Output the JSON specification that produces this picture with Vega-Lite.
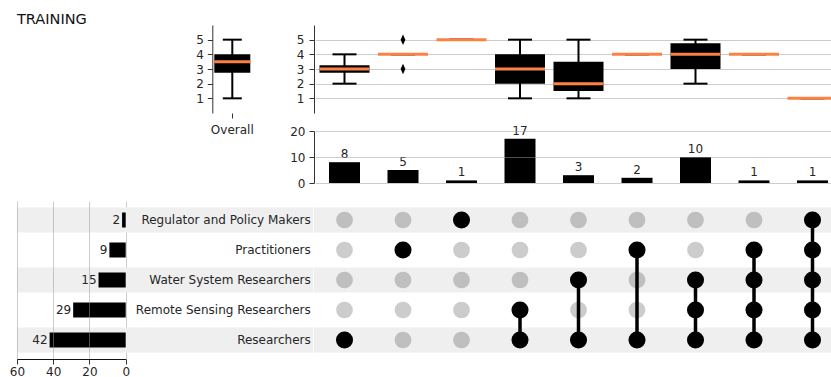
{
  "$schema": "https://vega.github.io/schema/vega-lite/v6.json",
  "padding": {"left": 9, "top": 12, "right": 0, "bottom": 0},
  "autosize": {"type": "pad"},
  "config": {
    "font": "DejaVu Sans",
    "view": {"stroke": null},
    "axis": {
      "labelFont": "DejaVu Sans",
      "labelFontSize": 12,
      "labelColor": "#262626",
      "labelOverlap": false,
      "labelFlush": false,
      "domainColor": "#333333",
      "tickColor": "#333333",
      "tickSize": 5,
      "gridColor": "#999999",
      "gridOpacity": 0.5,
      "title": null
    }
  },
  "datasets": {
    "overall": [{"grp": "Overall", "lo": 1, "q1": 2.75, "med": 3.5, "q3": 4, "hi": 5}],
    "inter": [
      {"col": 1, "count": 8, "lo": 2, "q1": 2.75, "med": 3, "q3": 3.25, "hi": 4},
      {"col": 2, "count": 5, "lo": 4, "q1": 4, "med": 4, "q3": 4, "hi": 4},
      {"col": 3, "count": 1, "lo": 5, "q1": 5, "med": 5, "q3": 5, "hi": 5},
      {"col": 4, "count": 17, "lo": 1, "q1": 2, "med": 3, "q3": 4, "hi": 5},
      {"col": 5, "count": 3, "lo": 1, "q1": 1.5, "med": 2, "q3": 3.5, "hi": 5},
      {"col": 6, "count": 2, "lo": 4, "q1": 4, "med": 4, "q3": 4, "hi": 4},
      {"col": 7, "count": 10, "lo": 2, "q1": 3, "med": 4, "q3": 4.75, "hi": 5},
      {"col": 8, "count": 1, "lo": 4, "q1": 4, "med": 4, "q3": 4, "hi": 4},
      {"col": 9, "count": 1, "lo": 1, "q1": 1, "med": 1, "q3": 1, "hi": 1}
    ],
    "outliers": [{"col": 2, "v": 3}, {"col": 2, "v": 5}],
    "sets": [
      {"set": "Regulator and Policy Makers", "size": 2},
      {"set": "Practitioners", "size": 9},
      {"set": "Water System Researchers", "size": 15},
      {"set": "Remote Sensing Researchers", "size": 29},
      {"set": "Researchers", "size": 42}
    ],
    "matrix": [
      {"col": 1, "set": "Regulator and Policy Makers", "on": false},
      {"col": 1, "set": "Practitioners", "on": false},
      {"col": 1, "set": "Water System Researchers", "on": false},
      {"col": 1, "set": "Remote Sensing Researchers", "on": false},
      {"col": 1, "set": "Researchers", "on": true},
      {"col": 2, "set": "Regulator and Policy Makers", "on": false},
      {"col": 2, "set": "Practitioners", "on": true},
      {"col": 2, "set": "Water System Researchers", "on": false},
      {"col": 2, "set": "Remote Sensing Researchers", "on": false},
      {"col": 2, "set": "Researchers", "on": false},
      {"col": 3, "set": "Regulator and Policy Makers", "on": true},
      {"col": 3, "set": "Practitioners", "on": false},
      {"col": 3, "set": "Water System Researchers", "on": false},
      {"col": 3, "set": "Remote Sensing Researchers", "on": false},
      {"col": 3, "set": "Researchers", "on": false},
      {"col": 4, "set": "Regulator and Policy Makers", "on": false},
      {"col": 4, "set": "Practitioners", "on": false},
      {"col": 4, "set": "Water System Researchers", "on": false},
      {"col": 4, "set": "Remote Sensing Researchers", "on": true},
      {"col": 4, "set": "Researchers", "on": true},
      {"col": 5, "set": "Regulator and Policy Makers", "on": false},
      {"col": 5, "set": "Practitioners", "on": false},
      {"col": 5, "set": "Water System Researchers", "on": true},
      {"col": 5, "set": "Remote Sensing Researchers", "on": false},
      {"col": 5, "set": "Researchers", "on": true},
      {"col": 6, "set": "Regulator and Policy Makers", "on": false},
      {"col": 6, "set": "Practitioners", "on": true},
      {"col": 6, "set": "Water System Researchers", "on": false},
      {"col": 6, "set": "Remote Sensing Researchers", "on": false},
      {"col": 6, "set": "Researchers", "on": true},
      {"col": 7, "set": "Regulator and Policy Makers", "on": false},
      {"col": 7, "set": "Practitioners", "on": false},
      {"col": 7, "set": "Water System Researchers", "on": true},
      {"col": 7, "set": "Remote Sensing Researchers", "on": true},
      {"col": 7, "set": "Researchers", "on": true},
      {"col": 8, "set": "Regulator and Policy Makers", "on": false},
      {"col": 8, "set": "Practitioners", "on": true},
      {"col": 8, "set": "Water System Researchers", "on": true},
      {"col": 8, "set": "Remote Sensing Researchers", "on": true},
      {"col": 8, "set": "Researchers", "on": true},
      {"col": 9, "set": "Regulator and Policy Makers", "on": true},
      {"col": 9, "set": "Practitioners", "on": true},
      {"col": 9, "set": "Water System Researchers", "on": true},
      {"col": 9, "set": "Remote Sensing Researchers", "on": true},
      {"col": 9, "set": "Researchers", "on": true}
    ]
  },
  "columns": 3,
  "spacing": {"row": 18, "column": 0},
  "bounds": "flush",
  "align": "each",
  "concat": [
    {
      "width": 108.7,
      "height": 88,
      "title": {"text": "TRAINING", "anchor": "start", "fontSize": 14.5, "fontWeight": "normal", "color": "#111111", "offset": -2.5, "font": "DejaVu Sans"},
      "data": {"values": []},
      "mark": "point"
    },
    {
      "width": 187.3,
      "height": 88,
      "data": {"name": "overall"},
      "encoding": {
        "x": {"field": "grp", "type": "nominal", "scale": {"range": [86.3, 126.3], "paddingInner": 0, "paddingOuter": 0},
              "axis": {"domain": false, "ticks": true, "labelAngle": 0, "labelPadding": 6, "tickSize": 5, "labelOverlap": false}}
      },
      "layer": [
        {"mark": {"type": "rule", "strokeWidth": 2, "color": "black"},
         "encoding": {"y": {"field": "lo", "type": "quantitative", "scale": {"domain": [0, 6]},
                            "axis": {"values": [1, 2, 3, 4, 5], "tickCount": 10, "format": "d", "offset": -86.3, "grid": false, "labelPadding": 4, "labelOverlap": false}},
                      "y2": {"field": "hi"}}},
        {"mark": {"type": "tick", "orient": "horizontal", "size": 19, "thickness": 2, "color": "black", "opacity": 1},
         "encoding": {"y": {"field": "lo", "type": "quantitative"}}},
        {"mark": {"type": "tick", "orient": "horizontal", "size": 19, "thickness": 2, "color": "black", "opacity": 1},
         "encoding": {"y": {"field": "hi", "type": "quantitative"}}},
        {"mark": {"type": "bar", "size": 36, "color": "black"},
         "encoding": {"y": {"field": "q1", "type": "quantitative"}, "y2": {"field": "q3"}}},
        {"mark": {"type": "tick", "orient": "horizontal", "size": 36, "thickness": 3, "color": "#fd8143", "opacity": 1},
         "encoding": {"y": {"field": "med", "type": "quantitative"}}}
      ]
    },
    {
      "width": 518,
      "height": 88,
      "data": {"name": "inter"},
      "encoding": {
        "x": {"field": "col", "type": "ordinal", "scale": {"range": [1.25, 527.75], "paddingInner": 0, "paddingOuter": 0}, "axis": null}
      },
      "layer": [
        {"mark": {"type": "rule", "strokeWidth": 2, "color": "black", "clip": true},
         "encoding": {"y": {"field": "lo", "type": "quantitative", "scale": {"domain": [0, 6]},
                            "axis": {"values": [1, 2, 3, 4, 5], "tickCount": 10, "format": "d", "grid": true, "labelPadding": 5, "zindex": 0, "labelOverlap": false}},
                      "y2": {"field": "hi"}}},
        {"mark": {"type": "tick", "orient": "horizontal", "size": 24, "thickness": 2, "color": "black", "opacity": 1, "clip": true},
         "encoding": {"y": {"field": "lo", "type": "quantitative"}}},
        {"mark": {"type": "tick", "orient": "horizontal", "size": 24, "thickness": 2, "color": "black", "opacity": 1, "clip": true},
         "encoding": {"y": {"field": "hi", "type": "quantitative"}}},
        {"mark": {"type": "bar", "size": 50, "color": "black", "clip": true},
         "encoding": {"y": {"field": "q1", "type": "quantitative"}, "y2": {"field": "q3"}}},
        {"mark": {"type": "tick", "orient": "horizontal", "size": 50, "thickness": 3, "color": "#fd8143", "opacity": 1, "clip": true},
         "encoding": {"y": {"field": "med", "type": "quantitative"}}},
        {"data": {"name": "outliers"},
         "mark": {"type": "point", "shape": "M0,-1L0.45,0L0,1L-0.45,0Z", "size": 110, "filled": true, "color": "black", "opacity": 1},
         "encoding": {"y": {"field": "v", "type": "quantitative"}}}
      ]
    },
    {"width": 108.7, "height": 52, "data": {"values": []}, "mark": "point"},
    {"width": 187.3, "height": 52, "data": {"values": []}, "mark": "point"},
    {
      "width": 518,
      "height": 52,
      "data": {"name": "inter"},
      "encoding": {
        "x": {"field": "col", "type": "ordinal", "scale": {"range": [1.25, 527.75], "paddingInner": 0, "paddingOuter": 0}, "axis": null}
      },
      "layer": [
        {"mark": {"type": "bar", "size": 31, "color": "black", "clip": true},
         "encoding": {"y": {"field": "count", "type": "quantitative", "scale": {"domain": [0, 20]},
                            "axis": {"values": [0, 10, 20], "tickCount": 10, "format": "d", "grid": true, "labelPadding": 4, "zindex": 1, "labelOverlap": false}}}},
        {"mark": {"type": "text", "baseline": "bottom", "dy": -1, "fontSize": 12, "color": "#262626"},
         "encoding": {"y": {"field": "count", "type": "quantitative"}, "text": {"field": "count", "type": "quantitative"}}}
      ]
    },
    {
      "width": 108.7,
      "height": 158,
      "data": {"name": "sets"},
      "encoding": {
        "y": {"field": "set", "type": "nominal", "axis": null,
              "scale": {"domain": ["Regulator and Policy Makers", "Practitioners", "Water System Researchers", "Remote Sensing Researchers", "Researchers"], "paddingInner": 0.1667, "paddingOuter": 0.2167}}
      },
      "layer": [
        {"transform": [{"filter": {"field": "set", "oneOf": ["Regulator and Policy Makers", "Water System Researchers", "Researchers"]}}],
         "mark": {"type": "rect", "color": "#efefef"},
         "encoding": {"x": {"value": 0}, "x2": {"value": "width"}}},
        {"mark": {"type": "bar", "height": 15, "color": "black"},
         "encoding": {"x": {"field": "size", "type": "quantitative", "scale": {"domain": [0, 60], "reverse": true},
                            "axis": {"values": [0, 20, 40, 60], "tickCount": 10, "format": "d", "grid": true, "zindex": 1, "labelPadding": 2, "domainColor": "#111111", "labelOverlap": false}}}},
        {"mark": {"type": "text", "align": "right", "dx": -2, "fontSize": 12, "color": "#262626"},
         "encoding": {"x": {"field": "size", "type": "quantitative"}, "text": {"field": "size", "type": "quantitative"}}}
      ]
    },
    {
      "width": 187.3,
      "height": 158,
      "data": {"name": "sets"},
      "encoding": {
        "y": {"field": "set", "type": "nominal", "axis": null,
              "scale": {"domain": ["Regulator and Policy Makers", "Practitioners", "Water System Researchers", "Remote Sensing Researchers", "Researchers"], "paddingInner": 0.1667, "paddingOuter": 0.2167}}
      },
      "layer": [
        {"transform": [{"filter": {"field": "set", "oneOf": ["Regulator and Policy Makers", "Water System Researchers", "Researchers"]}}],
         "mark": {"type": "rect", "color": "#efefef"},
         "encoding": {"x": {"value": 0}, "x2": {"value": "width"}}},
        {"mark": {"type": "text", "align": "right", "dx": -2.5, "fontSize": 12, "color": "#262626"},
         "encoding": {"x": {"value": "width"}, "text": {"field": "set", "type": "nominal"}}}
      ]
    },
    {
      "width": 518,
      "height": 158,
      "encoding": {
        "y": {"field": "set", "type": "nominal", "axis": null,
              "scale": {"domain": ["Regulator and Policy Makers", "Practitioners", "Water System Researchers", "Remote Sensing Researchers", "Researchers"], "paddingInner": 0.1667, "paddingOuter": 0.2167}}
      },
      "layer": [
        {"data": {"name": "sets"},
         "transform": [{"filter": {"field": "set", "oneOf": ["Regulator and Policy Makers", "Water System Researchers", "Researchers"]}}],
         "mark": {"type": "rect", "color": "#efefef"},
         "encoding": {"x": {"value": 0}, "x2": {"value": "width"}}},
        {"data": {"name": "matrix"},
         "mark": {"type": "circle", "size": 280, "color": "black", "opacity": 0.2},
         "encoding": {"x": {"field": "col", "type": "ordinal", "scale": {"range": [1.25, 527.75], "paddingInner": 0, "paddingOuter": 0}, "axis": null}}},
        {"data": {"name": "matrix"},
         "transform": [{"filter": "datum.on"}],
         "mark": {"type": "line", "color": "black", "strokeWidth": 3.5},
         "encoding": {"x": {"field": "col", "type": "ordinal"}, "detail": {"field": "col", "type": "ordinal"}}},
        {"data": {"name": "matrix"},
         "transform": [{"filter": "datum.on"}],
         "mark": {"type": "circle", "size": 290, "color": "black", "opacity": 1},
         "encoding": {"x": {"field": "col", "type": "ordinal"}}}
      ]
    }
  ]
}
